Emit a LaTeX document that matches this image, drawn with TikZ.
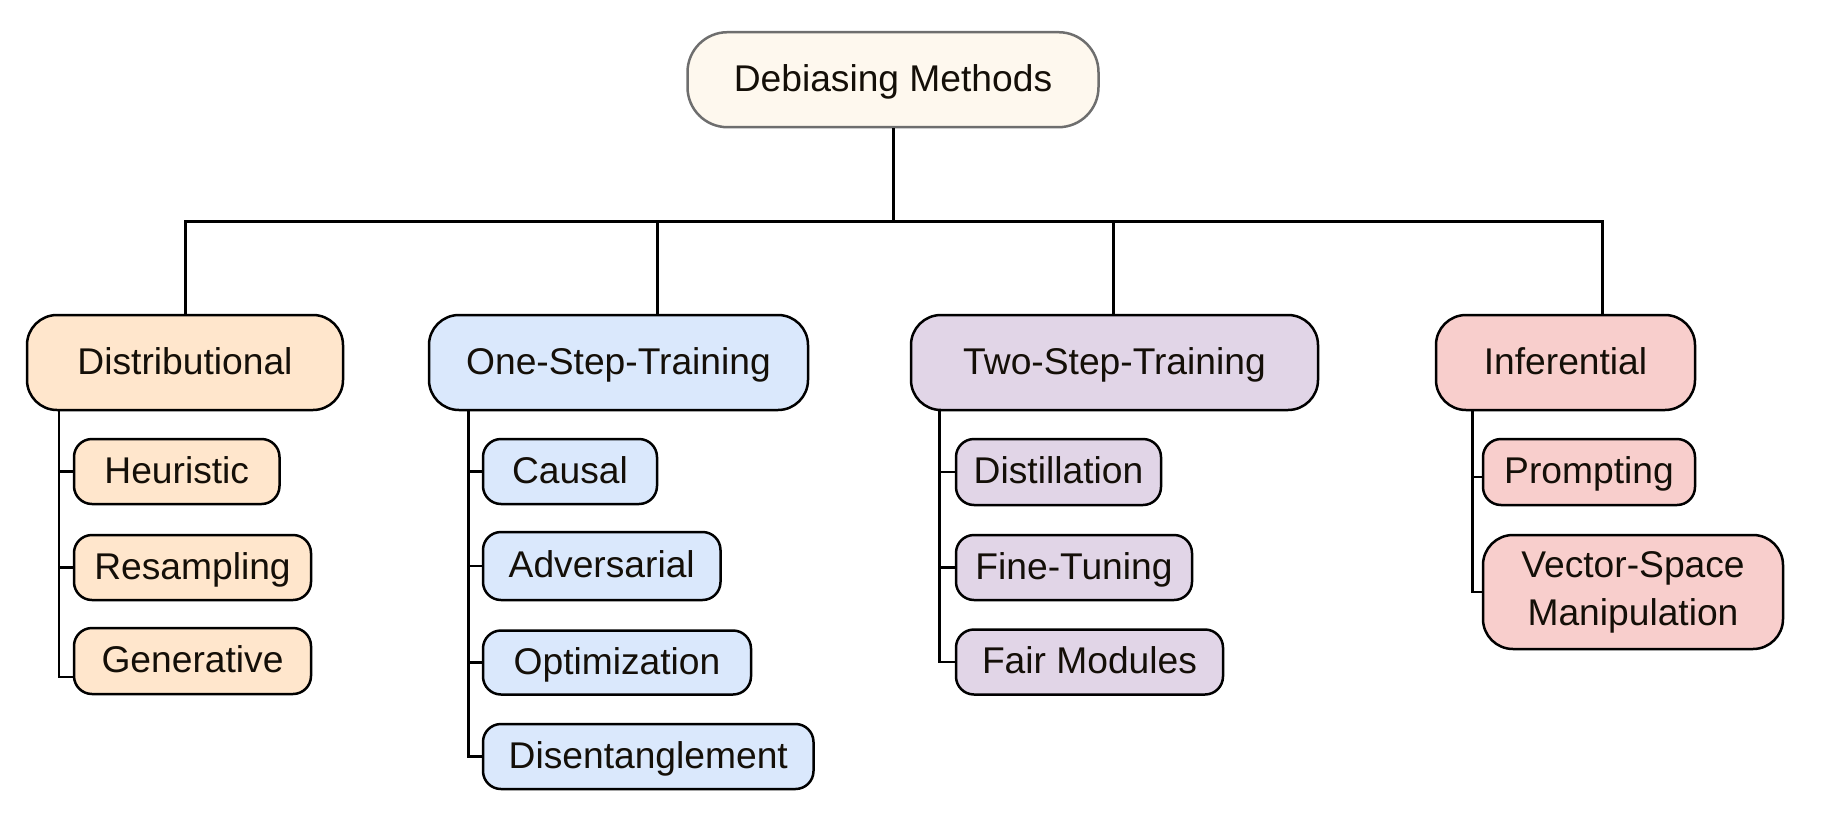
\documentclass[tikz,border=0pt]{standalone}
\usepackage{fontspec}
\setmainfont{Liberation Sans}
\definecolor{rootfill}{HTML}{FEF8EE}
\definecolor{rootline}{HTML}{6E6E6E}
\definecolor{orfill}{HTML}{FFE6CC}
\definecolor{blfill}{HTML}{DAE8FC}
\definecolor{pufill}{HTML}{E1D5E7}
\definecolor{rdfill}{HTML}{F8CECC}
\definecolor{txt}{HTML}{140F08}
\tikzset{
  box/.style={draw=black, line width=1.25pt, inner sep=0pt, align=center, text=txt,
    font=\fontsize{18.6}{24}\selectfont},
  oneline/.style={text height=14.5pt, text depth=3pt},
  rootbox/.style={box, oneline, draw=rootline, fill=rootfill, rounded corners=20pt,
    minimum height=47.5pt},
  catbox/.style={box, oneline, rounded corners=15pt, minimum height=47.5pt},
  leafbox/.style={box, oneline, rounded corners=9pt, minimum height=32.5pt},
  conn/.style={draw=black, line width=1.4pt},
  mainconn/.style={draw=black, line width=1.5pt},
}
\begin{document}
\begin{tikzpicture}[x=0.5pt, y=-0.5pt]
\useasboundingbox (0,0) rectangle (1822,814);

% root
\node[rootbox, minimum width=205.5pt] (root) at (893,79.7) {Debiasing Methods};

% categories
\node[catbox, fill=orfill, minimum width=158pt]   (dist) at (185,362.5)    {Distributional};
\node[catbox, fill=blfill, minimum width=189.5pt] (one)  at (618.5,362.5)  {One-Step-Training};
\node[catbox, fill=pufill, minimum width=203.5pt] (two)  at (1114.5,362.5) {Two-Step-Training};
\node[catbox, fill=rdfill, minimum width=129.5pt] (inf)  at (1565.5,362.5) {Inferential};

% leaves: distributional
\node[leafbox, fill=orfill, minimum width=102.75pt] (heur) at (176.75,471.5) {Heuristic};
\node[leafbox, fill=orfill, minimum width=118.5pt]  (resa) at (192.5,567.5)  {Resampling};
\node[leafbox, fill=orfill, minimum width=118.5pt, minimum height=33pt] (gene) at (192.5,661) {Generative};

% leaves: one-step
\node[leafbox, fill=blfill, minimum width=87pt]     (caus) at (570,471.5)    {Causal};
\node[leafbox, fill=blfill, minimum width=118.75pt, minimum height=34pt] (adve) at (601.75,566) {Adversarial};
\node[leafbox, fill=blfill, minimum width=134pt, minimum height=32pt] (opti) at (617,662.5) {Optimization};
\node[leafbox, fill=blfill, minimum width=165.25pt] (dise) at (648.25,756.5) {Disentanglement};

% leaves: two-step
\node[leafbox, fill=pufill, minimum width=102.5pt, minimum height=33pt] (dstl) at (1058.5,472) {Distillation};
\node[leafbox, fill=pufill, minimum width=118pt]    (fine) at (1074,567.5)   {Fine-Tuning};
\node[leafbox, fill=pufill, minimum width=133.5pt]  (fair) at (1089.5,662)   {Fair Modules};

% leaves: inferential
\node[leafbox, fill=rdfill, minimum width=106pt, minimum height=33pt] (prom) at (1589,472) {Prompting};
\node[box, fill=rdfill, minimum width=150pt, minimum height=57pt, rounded corners=15pt] (vect) at (1633,592) {Vector-Space\\Manipulation};

% top connectors
\coordinate (rj) at (893,221);
\coordinate (bL) at (185,221);
\coordinate (bR) at (1602.5,221);
\coordinate (b2) at (657,221);
\coordinate (b3) at (1113.3,221);
\draw[mainconn] (root.south) -- (rj);
\draw[mainconn] (dist.north) -- (bL) -- (bR) -- (bR |- inf.north);
\draw[mainconn] (b2) -- (b2 |- one.north);
\draw[mainconn] (b3) -- (b3 |- two.north);

% trunks
\coordinate (t1) at (59,410);
\coordinate (t1e) at (59,677);
\draw[conn] (t1) -- (t1e) -- (gene.west |- t1e);
\draw[conn] (t1) |- (heur.west);
\draw[conn] (t1) |- (resa.west);

\coordinate (t2) at (468.3,410);
\draw[conn] (t2) |- (dise.west);
\draw[conn] (t2) |- (caus.west);
\draw[conn] (t2) |- (adve.west);
\draw[conn] (t2) |- (opti.west);

\coordinate (t3) at (939.5,410);
\draw[conn] (t3) |- (fair.west);
\draw[conn] (t3) |- (dstl.west);
\draw[conn] (t3) |- (fine.west);

\coordinate (t4) at (1472.3,410);
\coordinate (t4p) at (1472.3,477);
\draw[conn] (t4) |- (vect.west);
\draw[conn] (t4p) -- (prom.west |- t4p);
\end{tikzpicture}
\end{document}
